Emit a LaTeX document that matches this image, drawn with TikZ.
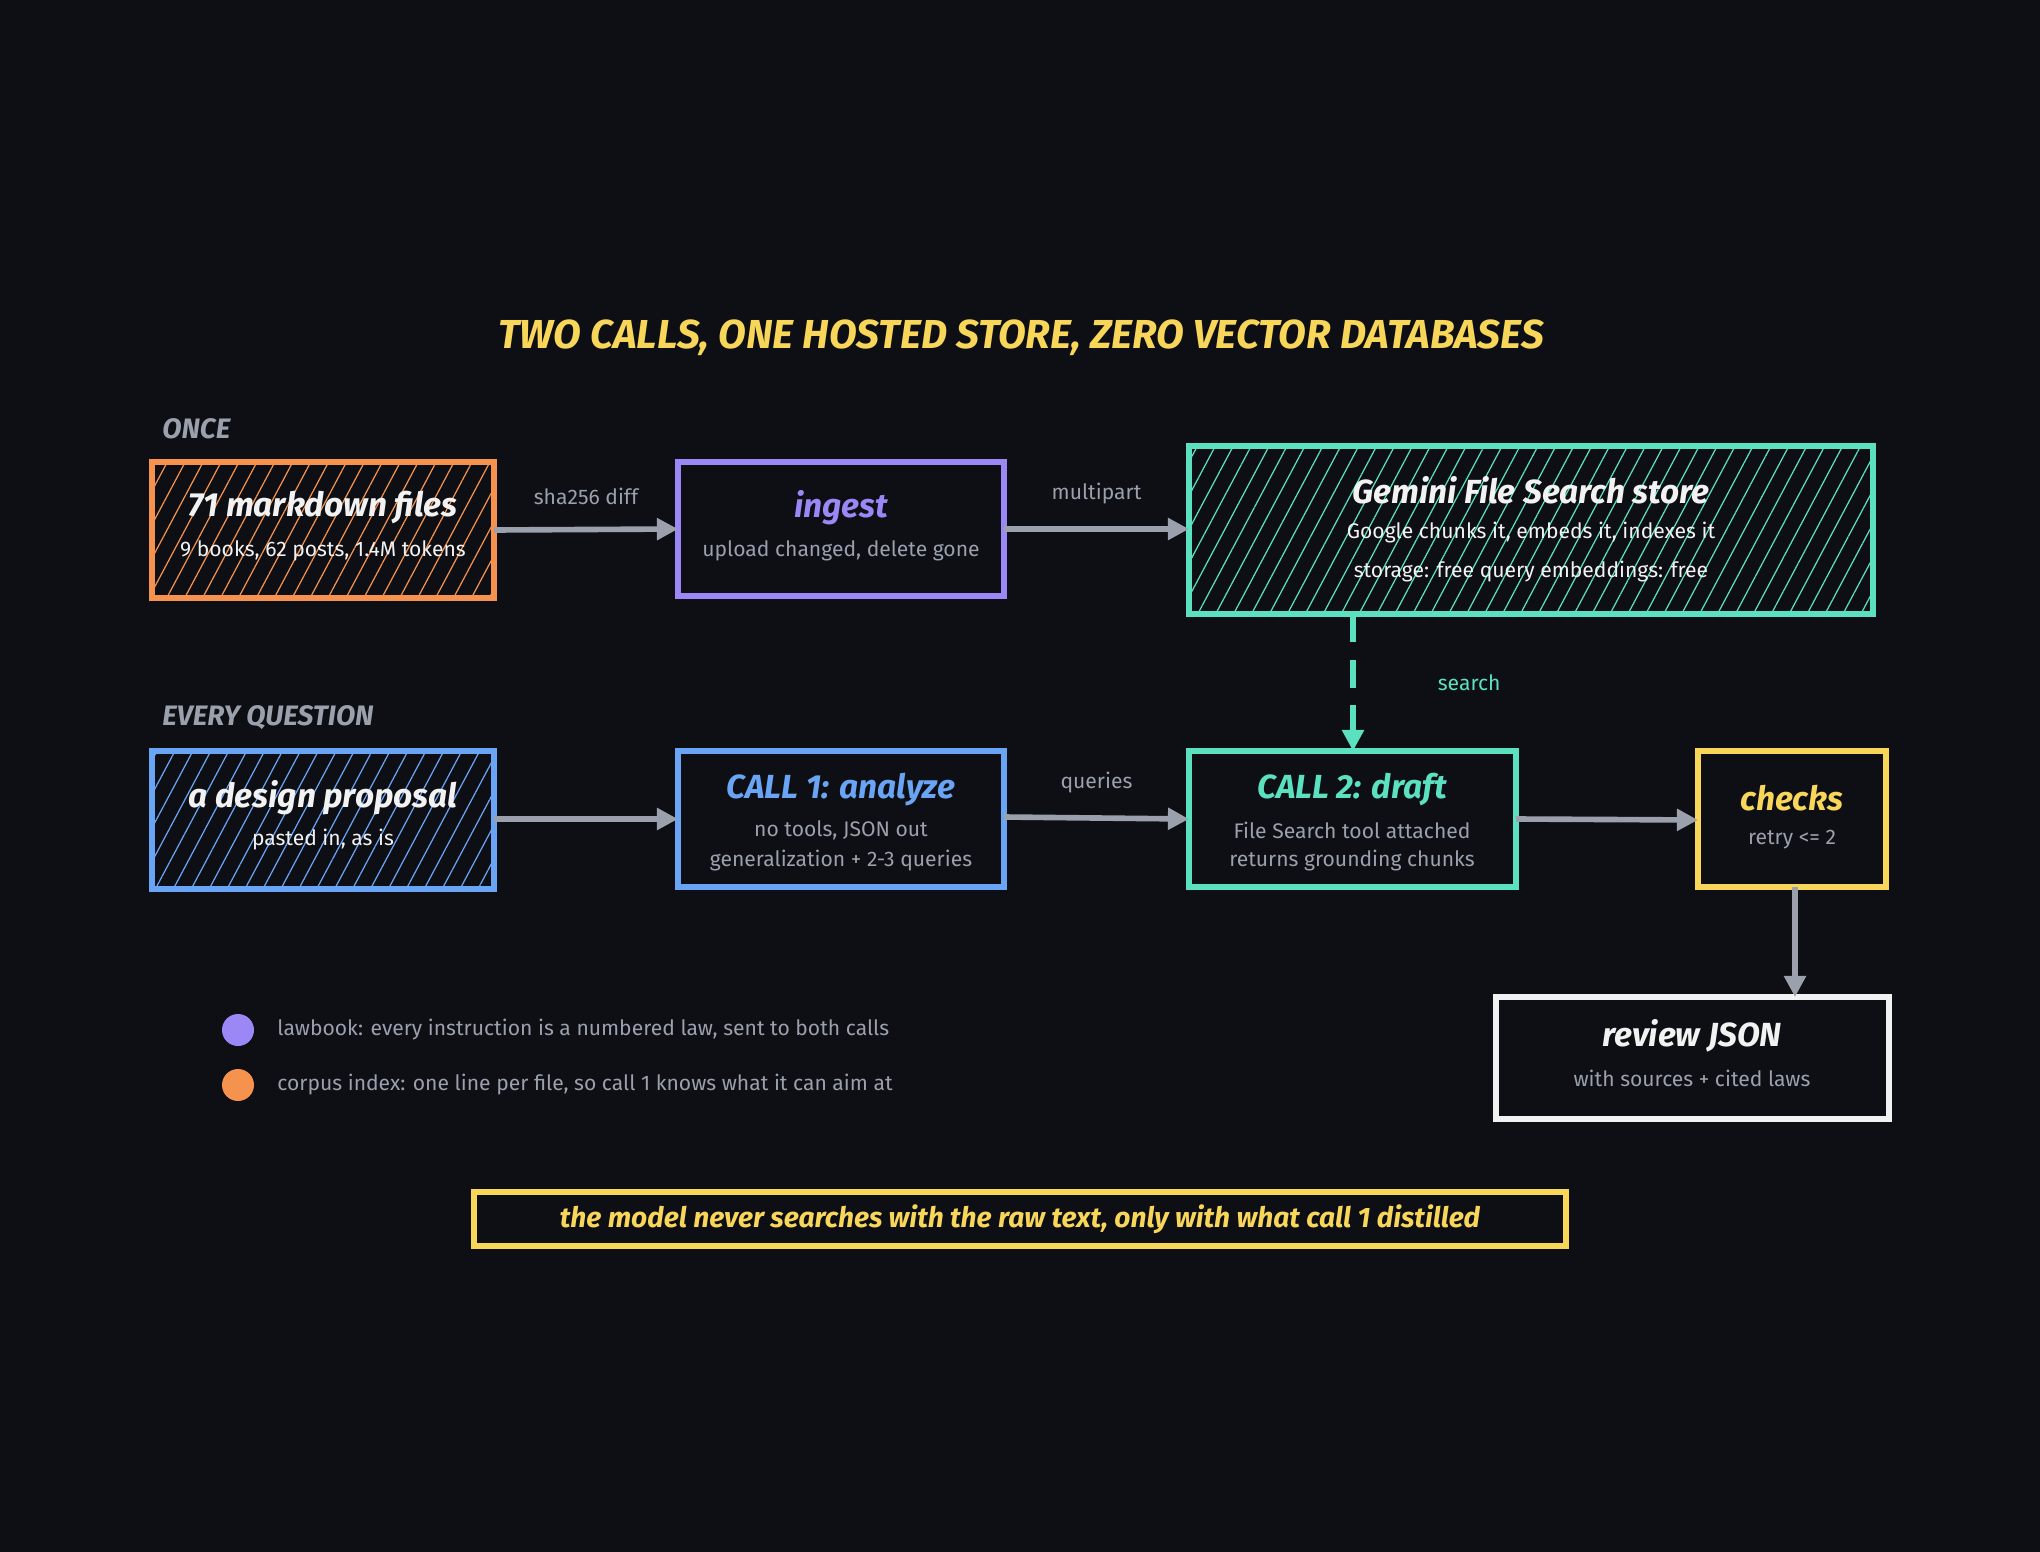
\documentclass[tikz,border=0pt]{standalone}
\usepackage{fontspec}
\setmainfont{Fira Sans}
\usetikzlibrary{positioning,arrows.meta,patterns.meta}
\definecolor{bg}{HTML}{0D0F14}
\definecolor{orng}{HTML}{F5924E}
\definecolor{purp}{HTML}{9B87F5}
\definecolor{teal}{HTML}{5CE1C0}
\definecolor{blu}{HTML}{6AA5F5}
\definecolor{yel}{HTML}{F8D65A}
\definecolor{gry}{HTML}{9AA0AC}
\definecolor{wht}{HTML}{F2F2F2}
\tikzset{
  box/.style = {draw=#1, line width=1.6pt},
  hatch/.style = {pattern={Lines[angle=62,distance=4.5pt,line width=0.35pt]}, pattern color=#1},
  ttl/.style = {font=\bfseries\itshape\fontsize{9.5}{11}\selectfont},
  sub/.style = {font=\fontsize{6}{8}\selectfont, text=gry},
  lbl/.style = {font=\fontsize{6}{8}\selectfont, text=gry},
  sec/.style = {font=\bfseries\itshape\fontsize{8}{10}\selectfont, text=gry, anchor=west},
  flow/.style = {draw=gry, line width=1.6pt, -{Triangle[length=6pt,width=6pt]}},
}
\begin{document}
\begin{tikzpicture}[x=0.01cm, y=-0.01cm]
  \fill[bg] (0,0) rectangle (2040,1552);
  \node[font=\bfseries\itshape\fontsize{11.5}{14}\selectfont, text=yel] (title) at (1021,338) {TWO CALLS, ONE HOSTED STORE, ZERO VECTOR DATABASES};
  \node[sec] (once) at (150,429) {ONCE};
  \node[sec] (every) at (150,718) {EVERY QUESTION};
  % once row
  \path[box=orng, hatch=orng] (152,462) rectangle (494,598);
  \node[ttl, text=wht] (filesT) at (323,508) {71 markdown files};
  \node[sub, text=wht] (filesS) at (323,551) {9 books, 62 posts, 1.4M tokens};
  \path[box=purp] (678,462) rectangle (1004,596);
  \node[ttl, text=purp] (ingT) at (841,508) {ingest};
  \node[sub] (ingS) at (841,551) {upload changed, delete gone};
  \path[box=teal, hatch=teal] (1189,446) rectangle (1873,614);
  \node[ttl, text=wht] (gemT) at (1531,490) {Gemini File Search store};
  \node[sub, text=wht] (gemS1) at (1531,533) {Google chunks it, embeds it, indexes it};
  \node[sub, text=wht] (gemS2) at (1531,572) {storage: free query embeddings: free};
  \coordinate (files) at (494,530);
  \coordinate (ing) at (678,529);
  \coordinate (ingR) at (1004,529);
  \coordinate (gem) at (1189,529);
  \coordinate (gemB) at (1353,614);
  % question row
  \path[box=blu, hatch=blu] (152,751) rectangle (494,889);
  \node[ttl, text=wht] (desT) at (323,798) {a design proposal};
  \node[sub, text=wht] (desS) at (323,840) {pasted in, as is};
  \path[box=blu] (678,751) rectangle (1004,887);
  \node[ttl, text=blu] (c1T) at (841,790) {CALL 1: analyze};
  \node[sub] (c1S1) at (841,830) {no tools, JSON out};
  \node[sub] (c1S2) at (841,861) {generalization + 2-3 queries};
  \path[box=teal] (1189,751) rectangle (1516,887);
  \node[ttl, text=teal] (c2T) at (1352,790) {CALL 2: draft};
  \node[sub] (c2S1) at (1352,830) {File Search tool attached};
  \node[sub] (c2S2) at (1352,861) {returns grounding chunks};
  \path[box=yel] (1698,751) rectangle (1886,887);
  \node[ttl, text=yel] (chkT) at (1792,798) {checks};
  \node[sub] (chkS) at (1792,840) {retry <= 2};
  \path[box=wht] (1496,997) rectangle (1889,1119);
  \node[ttl, text=wht] (revT) at (1692,1036) {review JSON};
  \node[sub] (revS) at (1692,1078) {with sources + cited laws};
  \coordinate (des) at (494,819);
  \coordinate (c1L) at (678,819);
  \coordinate (c1R) at (1004,817);
  \coordinate (c2L) at (1189,819);
  \coordinate (c2T) at (1353,751);
  \coordinate (c2R) at (1516,819);
  \coordinate (chkL) at (1698,820);
  \coordinate (chkB) at (1795,887);
  \coordinate (rev) at (1795,997);
  % connectors
  \draw[flow] (files) -- (ing) node[lbl, midway, above=3pt] {sha256 diff};
  \draw[flow] (ingR) -- (gem) node[lbl, midway, above=3pt] {multipart};
  \draw[flow, draw=teal, dash pattern=on 8pt off 5pt] (gemB) -- (c2T) node[lbl, text=teal, pos=0.5, right=20pt] {search};
  \draw[flow] (des) -- (c1L);
  \draw[flow] (c1R) -- (c2L) node[lbl, midway, above=3pt] {queries};
  \draw[flow] (c2R) -- (chkL);
  \draw[flow] (chkB) -- (rev);
  % legend
  \fill[purp] (238,1030) circle (16);
  \fill[orng] (238,1085) circle (16);
  \node[lbl, anchor=west, font=\fontsize{6}{8}\selectfont] (law) at (265,1030) {lawbook: every instruction is a numbered law, sent to both calls};
  \node[lbl, anchor=west, font=\fontsize{6}{8}\selectfont] (corp) at (265,1085) {corpus index: one line per file, so call 1 knows what it can aim at};
  % banner
  \path[box=yel] (474,1192) rectangle (1566,1246);
  \node[text=yel, font=\bfseries\itshape\fontsize{8}{10}\selectfont] (note) at (1020,1219) {the model never searches with the raw text, only with what call 1 distilled};
\end{tikzpicture}
\end{document}
